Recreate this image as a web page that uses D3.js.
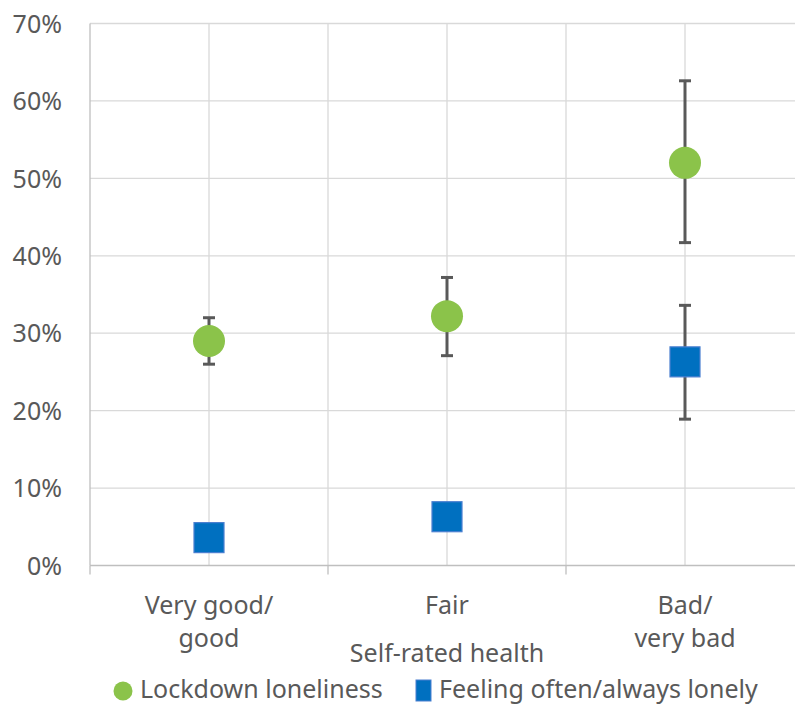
<!DOCTYPE html>
<html>
<head>
<meta charset="utf-8">
<script src="https://cdn.jsdelivr.net/npm/d3@7"></script>
<style>
  html, body { margin: 0; padding: 0; background: #fff; }
  svg { display: block; }
  text { font-family: "Noto Sans", "Open Sans", sans-serif; fill: #595959; }
</style>
</head>
<body>
<svg id="chart" width="795" height="705"></svg>
<script>
// Self-rated health categories (two-line labels)
const categories = ["Very good/\ngood", "Fair", "Bad/\nvery bad"];

// Lockdown loneliness (%), with 95% CI bounds
const lockdownValues = [29.0, 32.2, 52.0];
const lockdownLower  = [26.0, 27.1, 41.7];
const lockdownUpper  = [32.0, 37.2, 62.6];

// Feeling often/always lonely (%), with CI bounds (shown only where wider than the marker)
const lonelyValues = [3.6, 6.3, 26.3];
const lonelyLower  = [null, null, 18.9];
const lonelyUpper  = [null, null, 33.6];

const yTicks = [0, 10, 20, 30, 40, 50, 60, 70];
const seriesNames = ["Lockdown loneliness", "Feeling often/always lonely"];

const GREEN = "#8bc34a";
const BLUE = "#0070c0";
const BLUE_EDGE = "#4a7fd0";
const ERR = "#595959";
const GRID = "#d9d9d9";
const AXIS = "#bfbfbf";
const FONT = "25px";

const svg = d3.select("#chart");
const margin = { left: 90, top: 23.5, right: 804, bottom: 565.5 };

const x = d3.scaleBand().domain(categories).range([margin.left, margin.right]);
const y = d3.scaleLinear().domain([0, 70]).range([margin.bottom, margin.top]);
const cx = c => x(c) + x.bandwidth() / 2;

// Horizontal gridlines
svg.append("g").selectAll("line").data(yTicks.filter(t => t > 0)).join("line")
  .attr("x1", margin.left).attr("x2", margin.right)
  .attr("y1", d => y(d)).attr("y2", d => y(d))
  .attr("stroke", GRID).attr("stroke-width", 1.3);

// Vertical gridlines at category centres and boundaries
const vLines = [];
categories.forEach((c, i) => {
  vLines.push(cx(c));
  if (i > 0) vLines.push(x(c));
});
vLines.push(margin.right);
svg.append("g").selectAll("line").data(vLines).join("line")
  .attr("x1", d => d).attr("x2", d => d)
  .attr("y1", margin.top).attr("y2", margin.bottom)
  .attr("stroke", GRID).attr("stroke-width", 1.3);

// Y axis (labels only, plus axis line)
const yAxis = d3.axisLeft(y).tickValues(yTicks).tickFormat(d => d + "%").tickSize(0).tickPadding(28);
const yg = svg.append("g").attr("transform", `translate(${margin.left},0)`).call(yAxis);
yg.select(".domain").remove();
yg.selectAll("text").style("font-size", FONT).attr("fill", "#595959").attr("dy", "0.35em");

svg.append("line")
  .attr("x1", margin.left).attr("x2", margin.left)
  .attr("y1", margin.top).attr("y2", margin.bottom)
  .attr("stroke", AXIS).attr("stroke-width", 1.3);

// X axis line with boundary tick marks
svg.append("line")
  .attr("x1", margin.left).attr("x2", margin.right)
  .attr("y1", margin.bottom).attr("y2", margin.bottom)
  .attr("stroke", AXIS).attr("stroke-width", 1.3);
const bTicks = categories.map(c => x(c)).concat([margin.right]);
svg.append("g").selectAll("line").data(bTicks).join("line")
  .attr("x1", d => d).attr("x2", d => d)
  .attr("y1", margin.bottom).attr("y2", margin.bottom + 9)
  .attr("stroke", AXIS).attr("stroke-width", 1.3);

// Category labels
const catG = svg.append("g");
categories.forEach(c => {
  const lines = c.split("\n");
  const t = catG.append("text")
    .attr("x", cx(c)).attr("y", 614)
    .attr("text-anchor", "middle").style("font-size", FONT);
  lines.forEach((ln, i) => {
    t.append("tspan").attr("x", cx(c)).attr("dy", i === 0 ? 0 : 33).text(ln);
  });
});

// Axis title
svg.append("text")
  .attr("x", x("Fair") + x.bandwidth() / 2).attr("y", 662)
  .attr("text-anchor", "middle").style("font-size", FONT)
  .text("Self-rated health");

// Error bars
function errorBars(vals, lo, hi) {
  const g = svg.append("g").attr("stroke", ERR).attr("stroke-width", 3);
  categories.forEach((c, i) => {
    if (lo[i] == null) return;
    const xc = cx(c);
    g.append("line").attr("x1", xc).attr("x2", xc).attr("y1", y(lo[i])).attr("y2", y(hi[i]));
    [lo[i], hi[i]].forEach(v => {
      g.append("line").attr("x1", xc - 6).attr("x2", xc + 6).attr("y1", y(v)).attr("y2", y(v));
    });
  });
}
errorBars(lockdownValues, lockdownLower, lockdownUpper);
errorBars(lonelyValues, lonelyLower, lonelyUpper);

// Markers
svg.append("g").selectAll("circle").data(lockdownValues).join("circle")
  .attr("cx", (d, i) => cx(categories[i])).attr("cy", d => y(d))
  .attr("r", 16).attr("fill", GREEN);

svg.append("g").selectAll("rect").data(lonelyValues).join("rect")
  .attr("x", (d, i) => cx(categories[i]) - 15).attr("y", d => y(d) - 15)
  .attr("width", 30).attr("height", 30)
  .attr("fill", BLUE).attr("stroke", BLUE_EDGE).attr("stroke-width", 1.2);

// Legend
const lg = svg.append("g");
lg.append("circle").attr("cx", 123).attr("cy", 691).attr("r", 9.5).attr("fill", GREEN);
lg.append("text").attr("x", 140).attr("y", 698).style("font-size", FONT).text(seriesNames[0]);
lg.append("rect").attr("x", 416).attr("y", 680).attr("width", 15).attr("height", 21)
  .attr("fill", BLUE).attr("stroke", BLUE_EDGE).attr("stroke-width", 1);
lg.append("text").attr("x", 439).attr("y", 698).style("font-size", FONT).text(seriesNames[1]);
</script>
</body>
</html>
